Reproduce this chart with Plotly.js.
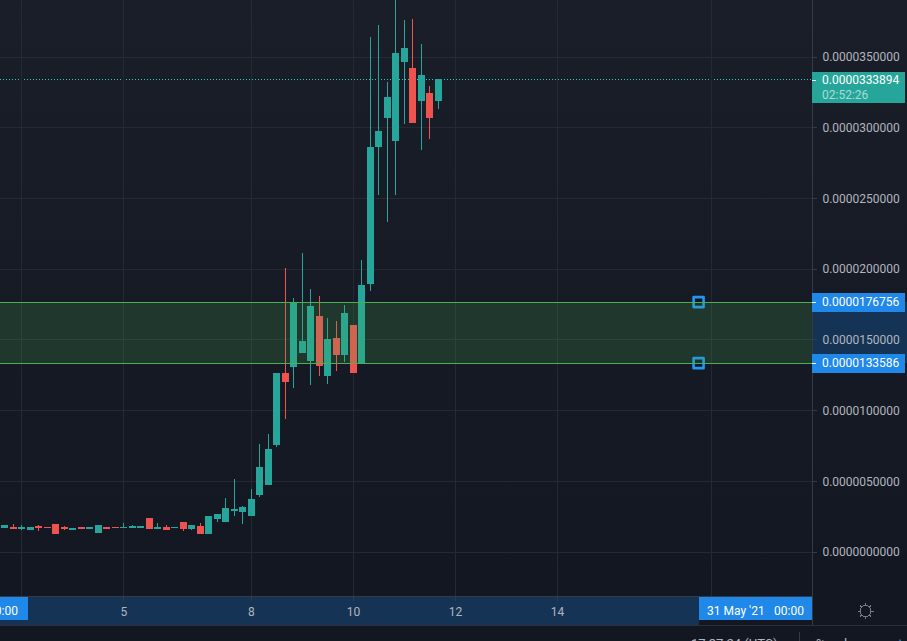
<!DOCTYPE html>
<html><head><meta charset="utf-8">
<script src="https://cdn.plot.ly/plotly-3.0.1.min.js"></script>
<style>
html,body{margin:0;padding:0;width:907px;height:641px;overflow:hidden;background:linear-gradient(180deg,#1a1e29 0px,#131722 596px,#131722 641px);}
#chart{width:907px;height:641px;}
.shapelayer path,.boxes path{shape-rendering:crispEdges;}
.scatterlayer path.point{stroke-linejoin:round !important;}
</style></head><body><div id="chart"></div>
<script>
// values in units of 1e-5
const candleIndex = Array.from({length:52},(_, i)=>i);
const openValues = [1.70,1.77,1.63,1.56,1.84,1.77,1.98,1.70,1.56,1.77,1.63,1.41,1.70,1.77,1.70,1.70,1.77,2.40,1.63,1.70,1.70,2.12,1.63,1.84,1.34,2.40,2.19,2.97,2.90,2.55,4.10,4.81,7.64,12.66,13.15,14.14,13.58,16.69,12.45,15.13,14.00,16.05,13.37,19.02,28.71,30.76,29.07,34.72,34.23,31.90,32.46,31.90];
const highValues = [1.91,1.98,1.91,1.77,1.91,1.77,1.98,1.84,1.63,1.77,1.77,1.91,1.70,1.77,2.05,1.91,1.84,2.40,2.05,1.91,1.77,2.12,1.91,2.05,2.48,2.62,3.82,5.16,3.25,4.46,7.64,8.35,12.66,20.08,17.96,21.15,18.60,18.10,16.55,16.34,17.47,16.05,20.65,36.42,37.27,33.24,39.30,37.62,37.69,35.93,32.96,33.3894];
const lowValues = [1.70,1.63,1.56,1.56,1.49,1.70,1.34,1.56,1.56,1.63,1.63,1.41,1.63,1.70,1.70,1.70,1.77,1.63,1.63,1.56,1.70,1.49,1.56,1.34,1.27,2.12,2.19,2.55,1.98,2.55,3.89,4.81,7.43,9.41,11.60,14.07,11.81,12.45,11.88,12.80,13.44,12.73,13.37,18.46,25.25,23.34,25.25,30.27,30.41,28.43,29.21,31.33];
const closeValues = [1.91,1.63,1.70,1.70,1.70,1.70,1.34,1.63,1.63,1.63,1.77,1.91,1.63,1.70,1.77,1.84,1.84,1.63,1.77,1.56,1.77,1.63,1.91,1.34,2.48,2.62,3.11,3.04,3.18,3.68,6.01,7.28,12.66,12.09,17.61,14.92,17.33,13.22,15.06,14.00,16.90,12.73,18.88,28.64,29.77,32.11,35.29,35.64,30.41,33.73,30.76,33.3894];
const yTickValues = [0,5,10,15,20,25,30,35];
const yTickLabels = ['0.0000000000','0.0000050000','0.0000100000','0.0000150000','0.0000200000','0.0000250000','0.0000300000','0.0000350000'];
const xTickIndex = [2,14,29,41,53,65,83.14];
const xTickLabels = ['','5','8','10','12','14',''];
const zoneLow = 13.3586, zoneHigh = 17.6756, lastPrice = 33.3894;
const handleIndex = 81.6;

const W=907,H=641,R=95,B=45,PW=W-R,PH=H-B;
const FONT='Roboto, sans-serif';
const px=x=>x/PW, py=y=>1-y/PH;
const e5=a=>a.map(v=>v*1e-5);
const shapes=[
  {type:'line',layer:'below',xref:'paper',x0:0,x1:1,yref:'y',y0:lastPrice*1e-5,y1:lastPrice*1e-5,line:{color:'#2ad0c0',width:1,dash:'1px,2px'}},
  {type:'rect',layer:'below',xref:'paper',x0:1,x1:px(907),yref:'y',y0:zoneLow*1e-5,y1:zoneHigh*1e-5,fillcolor:'#153455',line:{width:0}},
  {type:'rect',layer:'below',xref:'paper',x0:0,x1:px(699),yref:'paper',y0:py(624.5),y1:py(596.5),fillcolor:'#153455',line:{width:0}},
  {type:'line',layer:'below',xref:'paper',x0:0,x1:px(907),yref:'paper',y0:py(625),y1:py(625),line:{color:'#2a2e39',width:1}},
  {type:'line',layer:'below',xref:'paper',x0:1,x1:1,yref:'paper',y0:py(625),y1:1,line:{color:'#363a45',width:1}},
  {type:'rect',layer:'above',xref:'paper',x0:0,x1:1,yref:'y',y0:zoneLow*1e-5,y1:zoneHigh*1e-5,fillcolor:'rgba(76,175,80,0.2)',line:{width:0}},
  {type:'line',layer:'above',xref:'paper',x0:0,x1:1,yref:'y',y0:zoneHigh*1e-5,y1:zoneHigh*1e-5,line:{color:'#4caf50',width:1}},
  {type:'line',layer:'above',xref:'paper',x0:0,x1:1,yref:'y',y0:zoneLow*1e-5,y1:zoneLow*1e-5,line:{color:'#4caf50',width:1}},
  {type:'rect',layer:'above',xref:'paper',x0:1,x1:px(905),yref:'paper',y0:py(102.5),y1:py(71.5),fillcolor:'#26a69a',line:{width:0}},
  {type:'rect',layer:'above',xref:'paper',x0:1,x1:px(905),yref:'paper',y0:py(312),y1:py(293),fillcolor:'#2088e8',line:{width:0}},
  {type:'rect',layer:'above',xref:'paper',x0:1,x1:px(905),yref:'paper',y0:py(372.5),y1:py(354),fillcolor:'#2088e8',line:{width:0}},
  {type:'rect',layer:'above',xref:'paper',x0:0,x1:px(28),yref:'paper',y0:py(620),y1:py(596.5),fillcolor:'#2088e8',line:{width:0}},
  {type:'rect',layer:'above',xref:'paper',x0:px(699),x1:px(812),yref:'paper',y0:py(620),y1:py(596.5),fillcolor:'#2088e8',line:{width:0}},
  {type:'line',layer:'above',xref:'paper',x0:1,x1:px(816),yref:'paper',y0:py(80),y1:py(80),line:{color:'#ffffff',width:1}},
  {type:'line',layer:'above',xref:'paper',x0:1,x1:px(816),yref:'paper',y0:py(302),y1:py(302),line:{color:'#ffffff',width:1}},
  {type:'line',layer:'above',xref:'paper',x0:1,x1:px(816),yref:'paper',y0:py(363),y1:py(363),line:{color:'#ffffff',width:1}},
  {type:'line',layer:'below',xref:'paper',x0:px(799),x1:px(799),yref:'paper',y0:py(641),y1:py(632),line:{color:'#363a45',width:1}},
  {type:'circle',layer:'above',xref:'paper',yref:'paper',x0:px(860),x1:px(871),y0:py(616.5),y1:py(605.5),line:{color:'#787b86',width:1}},
];
// sun icon rays
[[865.5,603,865.5,605.5],[865.5,616.5,865.5,619],[857.5,611,860,611],[871,611,873.5,611],[859.8,605.3,861.6,607.1],[869.4,614.9,871.2,616.7],[859.8,616.7,861.6,614.9],[869.4,607.1,871.2,605.3]].forEach(r=>{
  shapes.push({type:'line',layer:'above',xref:'paper',yref:'paper',x0:px(r[0]),x1:px(r[2]),y0:py(r[1]),y1:py(r[3]),line:{color:'#787b86',width:1}});
});
const txt=(text,x,y,color,anchor,size)=>({text,xref:'paper',yref:'paper',x:px(x),y:py(y),xanchor:anchor||'left',yanchor:'middle',showarrow:false,font:{family:FONT,size:size||12,color:color||'#ffffff'}});
const annotations=[
  txt('0.0000333894',820,80),
  txt('02:52:26',820,94.5,'#a9dcd7'),
  txt('0.0000176756',820,302),
  txt('0.0000133586',820,363),
  txt('00:00',20,610.5,'#ffffff','right'),
  txt("31 May '21",705,610.5),
  txt('00:00',772,610.5),
  txt('17:37:24 (UTC)',689,643,'#b2b5be','left',13),
  txt('%',814,643,'#b2b5be','left',13),
  txt('log',842,643,'#b2b5be','left',13),
  txt('auto',882,643,'#2196f3','left',13),
];
Plotly.newPlot('chart',[
 {type:'candlestick',x:candleIndex,open:e5(openValues),high:e5(highValues),low:e5(lowValues),close:e5(closeValues),
  increasing:{line:{color:'#26a69a',width:1},fillcolor:'#26a69a'},
  decreasing:{line:{color:'#ef5350',width:1},fillcolor:'#ef5350'},
  whiskerwidth:0,hoverinfo:'skip',showlegend:false},
 {type:'scatter',mode:'markers',x:[handleIndex,handleIndex],y:e5([zoneHigh,zoneLow]),hoverinfo:'skip',showlegend:false,cliponaxis:false,
  marker:{symbol:'square',size:10,color:'#131722',line:{color:'#2196f3',width:2.6}}}
],{
 width:W,height:H,margin:{l:0,r:R,t:0,b:B,pad:0},
 paper_bgcolor:'rgba(0,0,0,0)',plot_bgcolor:'rgba(0,0,0,0)',
 showlegend:false,hovermode:false,boxgap:0.29,boxgroupgap:0,
 xaxis:{type:'linear',range:[-0.58,94.94],rangeslider:{visible:false},tickmode:'array',tickvals:xTickIndex,ticktext:xTickLabels,
  showgrid:true,gridcolor:'#252934',gridwidth:1,zeroline:false,showline:true,linecolor:'#363a45',linewidth:1,ticks:'outside',ticklen:4,tickcolor:'#363a45',
  tickfont:{family:FONT,size:12,color:'#b2b5be'},ticklabelstandoff:1},
 yaxis:{side:'right',range:[-3.11e-5,39.04e-5],tickmode:'array',tickvals:e5(yTickValues),ticktext:yTickLabels,
  showgrid:true,gridcolor:'#252934',gridwidth:1,zeroline:false,showline:false,ticks:'outside',ticklen:4,tickcolor:'#363a45',
  tickfont:{family:FONT,size:12,color:'#b2b5be'},ticklabelstandoff:3},
 shapes,annotations
},{displayModeBar:false,staticPlot:true});
</script></body></html>
